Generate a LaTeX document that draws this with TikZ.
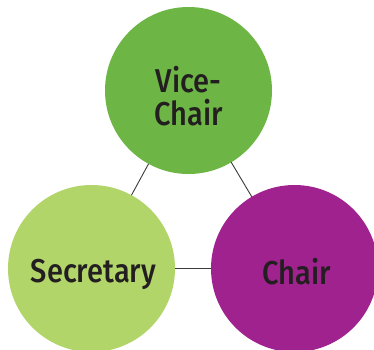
\documentclass[tikz,border=0pt]{standalone}
\usepackage{fontspec}
\newfontfamily\labfont{Fira Sans Medium}[FakeStretch=0.88]
\definecolor{vicegreen}{HTML}{6DB545}
\definecolor{secgreen}{HTML}{B2D56A}
\definecolor{chairpurple}{HTML}{A0228E}
\definecolor{inkdark}{HTML}{231F20}
\definecolor{linkgray}{HTML}{3A3A3A}
\tikzset{
  role/.style={circle, minimum size=167pt, inner sep=0pt, outer sep=0pt},
  rolelabel/.style={text=inkdark, align=center, inner sep=0pt,
    font=\labfont\fontsize{33}{33}\selectfont},
  link/.style={draw=linkgray, line width=0.9pt}
}
\begin{document}
\begin{tikzpicture}[x=1pt,y=-1pt]
\useasboundingbox (0,0) rectangle (374,349);
\begin{scope}
\clip (0,0) rectangle (374,349);
\node[role, fill=vicegreen] (vice) at (188.5,90.5) {};
\node[role, fill=secgreen] (sec) at (91.5,268.5) {};
\node[role, fill=chairpurple] (chair) at (294.5,268.5) {};
\draw[link] (vice) -- (sec);
\draw[link] (vice) -- (chair);
\draw[link] (sec) -- (chair);
\node[rolelabel, anchor=base] (vicetext) at (188.5,92) {Vice-};
\node[rolelabel, anchor=base] (vicetext2) at (188.5,125) {Chair};
\node[rolelabel, anchor=base] (sectext) at (93.5,282) {Secretary};
\node[rolelabel, anchor=base] (chairtext) at (297,284) {Chair};
\end{scope}
\end{tikzpicture}
\end{document}
